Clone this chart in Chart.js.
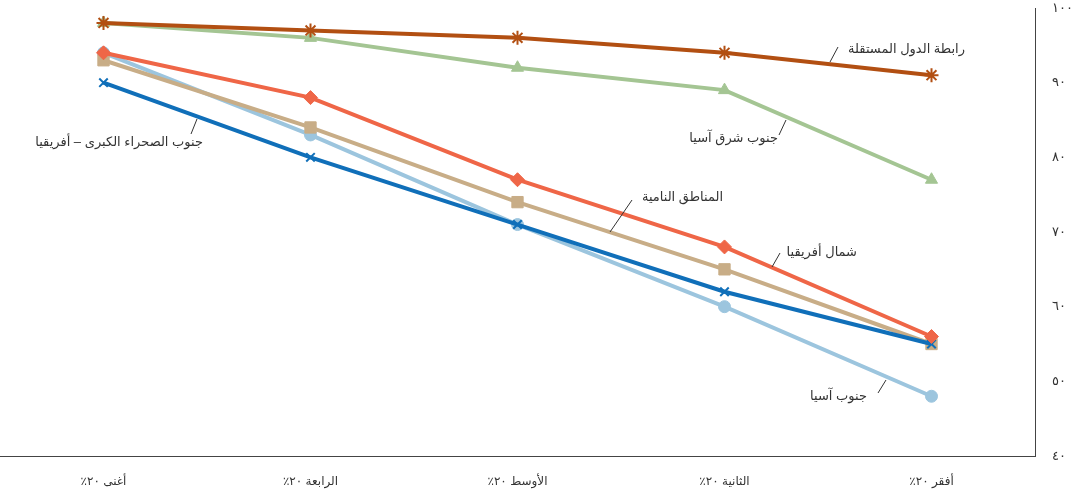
<!DOCTYPE html>
<html lang="ar">
<head>
<meta charset="utf-8">
<script src="https://cdn.jsdelivr.net/npm/chart.js@4.4.1/dist/chart.umd.min.js"></script>
<style>
  html, body { margin: 0; padding: 0; background: #fff; }
  #wrap { width: 1075px; height: 496px; position: relative; }
  canvas { direction: rtl; }
</style>
</head>
<body>
<div id="wrap"><canvas id="c" width="1075" height="496"></canvas></div>
<script>
// Quintile categories (richest to poorest)
const categories = ['أغنى ٢٠٪', 'الرابعة ٢٠٪', 'الأوسط ٢٠٪', 'الثانية ٢٠٪', 'أفقر ٢٠٪'];

// Series values per region
const cisValues        = [98, 97, 96, 94, 91];   // رابطة الدول المستقلة
const seAsiaValues     = [98, 96, 92, 89, 77];   // جنوب شرق آسيا
const nAfricaValues    = [94, 88, 77, 68, 56];   // شمال أفريقيا
const developingValues = [93, 84, 74, 65, 55];   // المناطق النامية
const ssAfricaValues   = [90, 80, 71, 62, 55];   // جنوب الصحراء الكبرى – أفريقيا
const sAsiaValues      = [94, 83, 71, 60, 48];   // جنوب آسيا

// Y tick labels (Arabic-Indic digits)
const yTickLabels = { 40: '٤٠', 50: '٥٠', 60: '٦٠', 70: '٧٠', 80: '٨٠', 90: '٩٠', 100: '١٠٠' };

const seriesNames = {
  cis: 'رابطة الدول المستقلة',
  seAsia: 'جنوب شرق آسيا',
  nAfrica: 'شمال أفريقيا',
  developing: 'المناطق النامية',
  ssAfrica: 'جنوب الصحراء الكبرى – أفريقيا',
  sAsia: 'جنوب آسيا'
};

function ds(label, data, color, style, radius, order) {
  return {
    label, data,
    borderColor: color, backgroundColor: color,
    borderWidth: 4, tension: 0,
    pointStyle: style, pointRadius: radius, pointHoverRadius: radius,
    pointBorderColor: color, pointBackgroundColor: color,
    pointBorderWidth: (style === 'star' || style === 'crossRot') ? 2 : 1,
    order
  };
}

// Callout labels with short leader lines
const calloutPlugin = {
  id: 'callouts',
  afterDatasetsDraw(chart) {
    const ctx = chart.ctx;
    const items = [
      { text: seriesNames.cis,        x: 965, y: 49,  line: [830, 62, 838, 47] },
      { text: seriesNames.seAsia,     x: 778, y: 138, line: [786, 120, 779, 135] },
      { text: seriesNames.developing, x: 723, y: 197, line: [632, 200, 610, 232] },
      { text: seriesNames.nAfrica,    x: 857, y: 252, line: [780, 253, 772, 267] },
      { text: seriesNames.sAsia,      x: 867, y: 396, line: [878, 393, 886, 380] },
      { text: seriesNames.ssAfrica,   x: 203, y: 142, line: [197, 119, 191, 134] }
    ];
    ctx.save();
    ctx.strokeStyle = '#333';
    ctx.lineWidth = 1;
    ctx.fillStyle = '#333';
    ctx.font = '13px "Liberation Sans", "DejaVu Sans", sans-serif';
    ctx.direction = 'rtl';
    ctx.textAlign = 'right';
    ctx.textBaseline = 'middle';
    items.forEach(it => {
      ctx.beginPath();
      ctx.moveTo(it.line[0], it.line[1]);
      ctx.lineTo(it.line[2], it.line[3]);
      ctx.stroke();
      ctx.fillText(it.text, it.x, it.y);
    });
    ctx.restore();
  }
};

new Chart(document.getElementById('c'), {
  type: 'line',
  data: {
    labels: categories,
    datasets: [
      ds(seriesNames.cis,        cisValues,        '#b24f12', 'star',     7, 1),
      ds(seriesNames.seAsia,     seAsiaValues,     '#a4c593', 'triangle', 7, 2),
      ds(seriesNames.nAfrica,    nAfricaValues,    '#ef6647', 'rectRot',  7, 3),
      ds(seriesNames.ssAfrica,   ssAfricaValues,   '#106fb9', 'crossRot', 6, 4),
      ds(seriesNames.developing, developingValues, '#c8ad87', 'rect',     8, 5),
      ds(seriesNames.sAsia,      sAsiaValues,      '#9cc5de', 'circle',   6, 6)
    ]
  },
  options: {
    responsive: false,
    animation: false,
    layout: { autoPadding: false, padding: { top: 8, left: -4, right: 0, bottom: 0 } },
    plugins: { legend: { display: false }, tooltip: { enabled: false } },
    scales: {
      x: {
        type: 'category',
        offset: true,
        grid: { display: false },
        border: { display: true, color: '#444', width: 1 },
        ticks: {
          color: '#333',
          padding: 10,
          maxRotation: 0,
          font: { family: '"Liberation Sans", "DejaVu Sans", sans-serif', size: 12 }
        },
        afterFit(scale) {
          scale.height = 40;
          scale.paddingLeft = 0;
          scale.paddingRight = 0;
        }
      },
      y: {
        position: 'right',
        min: 40, max: 100,
        grid: { display: false },
        border: { display: true, color: '#444', width: 1 },
        ticks: {
          stepSize: 10,
          color: '#333',
          padding: 9,
          font: { family: '"Liberation Sans", "DejaVu Sans", sans-serif', size: 13 },
          callback: v => yTickLabels[v] || ''
        },
        afterFit(scale) {
          scale.width = 40;
          scale.paddingTop = 0;
          scale.paddingBottom = 0;
        }
      }
    }
  },
  plugins: [calloutPlugin]
});
</script>
</body>
</html>
